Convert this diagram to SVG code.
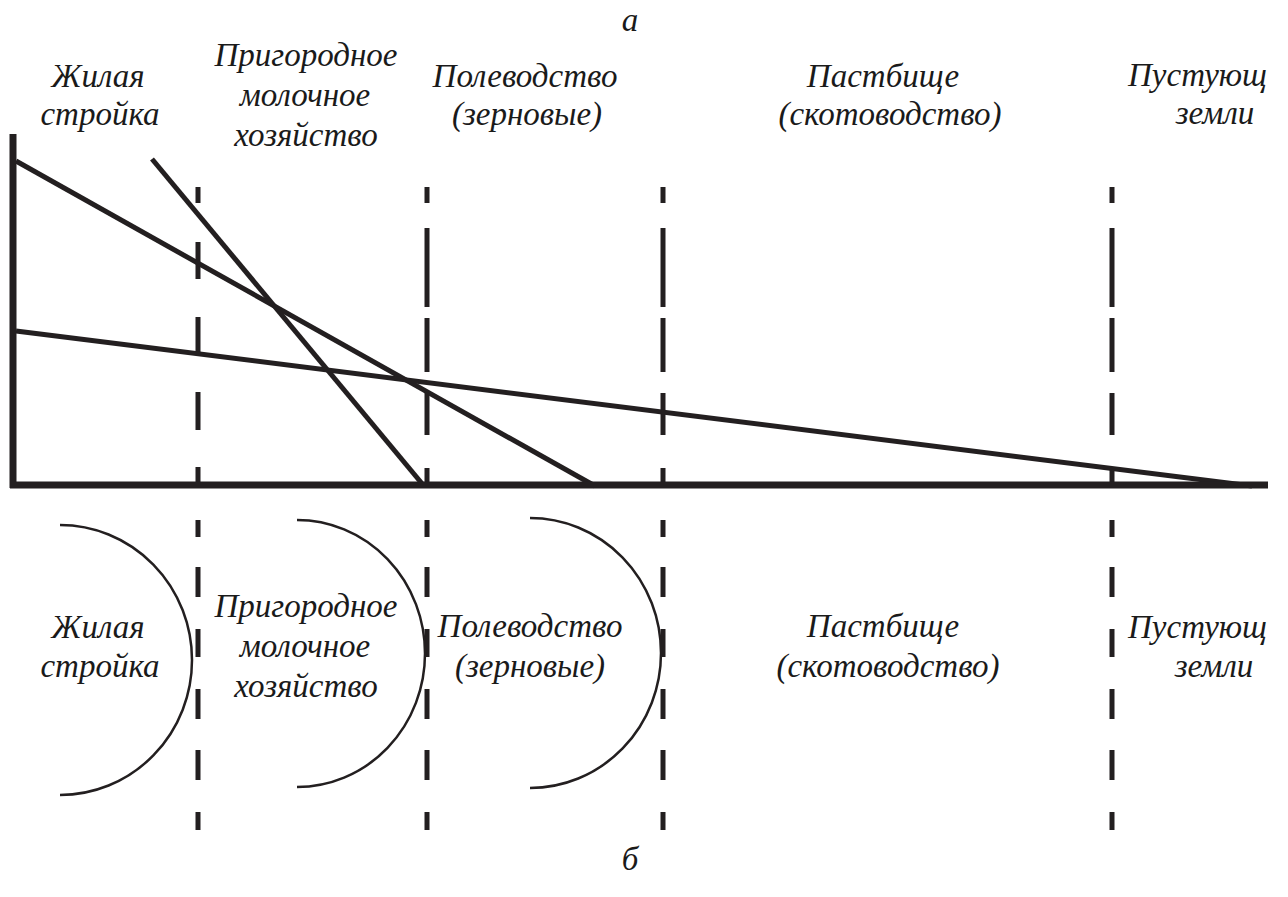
<svg xmlns="http://www.w3.org/2000/svg" width="1288" height="897" viewBox="0 0 1288 897">
<style>
text{font-family:"Liberation Serif","Times New Roman",serif;font-style:italic;font-size:33px;fill:#1a1a1a}
.m{text-anchor:middle}
.axis{stroke:#231f20;stroke-width:7;fill:none}
.ln{stroke:#231f20;stroke-width:5;fill:none}
.dash{stroke:#231f20;stroke-width:5;fill:none}
.arc{stroke:#231f20;stroke-width:2.5;fill:none}
</style>
<defs>
<clipPath id="clip"><rect x="0" y="0" width="1268" height="897"/></clipPath>
</defs>
<rect width="1288" height="897" fill="#fff"/>
<g clip-path="url(#clip)">
<g id="labels-top">
<text class="m" x="630" y="31">а</text>
<text class="m" x="98" y="87">Жилая</text>
<text class="m" x="100" y="125">стройка</text>
<text class="m" x="306" y="66">Пригородное</text>
<text class="m" x="305" y="106">молочное</text>
<text class="m" x="306" y="146">хозяйство</text>
<text class="m" x="525" y="87">Полеводство</text>
<text class="m" x="527" y="125">(зерновые)</text>
<text class="m" x="883" y="87">Пастбище</text>
<text class="m" x="890" y="125">(скотоводство)</text>
<text x="1128" y="86">Пустующие</text>
<text class="m" x="1215" y="124">земли</text>
</g>
<g id="chart">
<path class="dash" d="M198,187V203M198,242V279M198,317V353M198,392V430M198,467V485"/>
<path class="dash" d="M427,187V203M427,228V307M427,318V372M427,393V435M427,468V485"/>
<path class="dash" d="M663,187V203M663,228V307M663,318V372M663,393V435M663,468V485"/>
<path class="dash" d="M1112,187V203M1112,228V307M1112,318V372M1112,393V435M1112,468V485"/>
<path class="ln" d="M16,161L595,486"/>
<path class="ln" d="M152,159L424,486"/>
<path class="ln" d="M16,331L1252,486"/>
<path class="axis" d="M13,134V488M10,485H1268"/>
</g>
<g id="zones-bottom">
<path class="dash" d="M198,520V537M198,567V597M198,629V657M198,689V719M198,750V780M198,812V830"/>
<path class="dash" d="M427,520V537M427,567V597M427,629V657M427,689V719M427,750V780M427,812V830"/>
<path class="dash" d="M663,520V537M663,567V597M663,629V657M663,689V719M663,750V780M663,812V830"/>
<path class="dash" d="M1112,520V537M1112,567V597M1112,629V657M1112,689V719M1112,750V780M1112,812V830"/>
<path class="arc" d="M60,525A132,135 0 0 1 60,795"/>
<path class="arc" d="M297,520A128,133.5 0 0 1 297,787"/>
<path class="arc" d="M530,518A131,135 0 0 1 530,788"/>
<text class="m" x="98" y="638">Жилая</text>
<text class="m" x="100" y="677">стройка</text>
<text class="m" x="306" y="617">Пригородное</text>
<text class="m" x="305" y="657">молочное</text>
<text class="m" x="306" y="697">хозяйство</text>
<text class="m" x="530" y="637">Полеводство</text>
<text class="m" x="530" y="677">(зерновые)</text>
<text class="m" x="883" y="637">Пастбище</text>
<text class="m" x="888" y="677">(скотоводство)</text>
<text x="1128" y="638">Пустующие</text>
<text class="m" x="1214" y="677">земли</text>
<text class="m" x="630" y="870">б</text>
</g>
</g>
</svg>
